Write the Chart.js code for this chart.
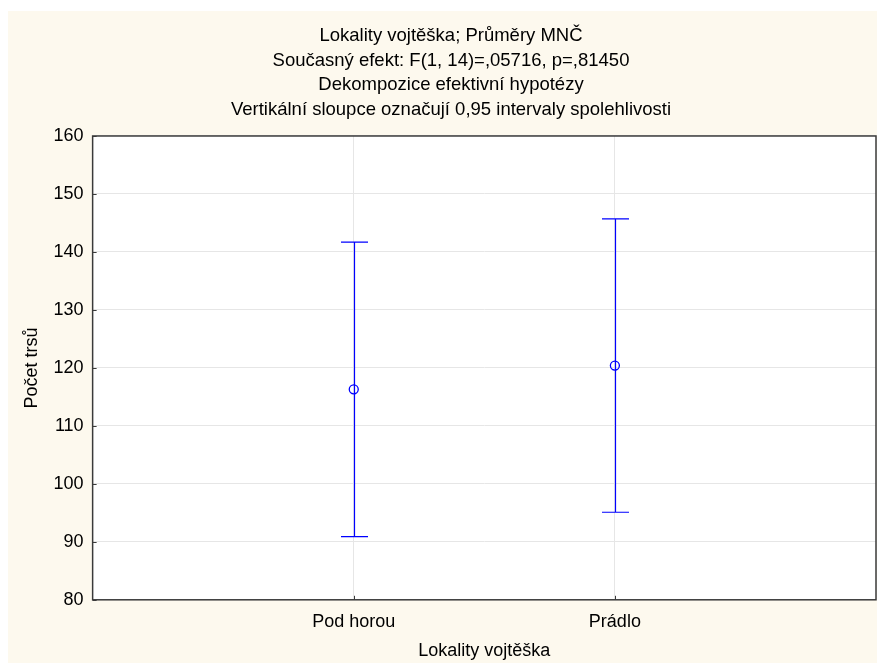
<!DOCTYPE html>
<html>
<head>
<meta charset="utf-8">
<script src="https://cdn.jsdelivr.net/npm/chart.js@4/dist/chart.umd.min.js"></script>
<style>
  html, body { margin: 0; padding: 0; background: #ffffff; overflow: hidden; }
  #wrap { width: 877px; height: 663px; }
  canvas { display: block; }
</style>
</head>
<body>
<div id="wrap"><canvas id="c" width="877" height="663"></canvas></div>
<script>
// Category labels and group positions on the x axis
const categories = ['Pod horou', 'Prádlo'];
const positions = [1, 2];
// Least-squares means and their 0.95 confidence limits
const means = [116.3, 120.4];
const lowerCI = [90.9, 95.1];
const upperCI = [141.7, 145.7];
// Y axis tick values
const yTicks = [80, 90, 100, 110, 120, 130, 140, 150, 160];

const titleLines = [
  'Lokality vojtěška; Průměry MNČ',
  'Současný efekt: F(1, 14)=,05716, p=,81450',
  'Dekompozice efektivní hypotézy',
  'Vertikální sloupce označují 0,95 intervaly spolehlivosti'
];

const BLUE = '#0000ff';
const FONT = 'Liberation Sans, Arial, sans-serif';
const FS = 18;

// Cream page background with a white margin on the top/left edges
const backgroundPlugin = {
  id: 'bg',
  beforeDraw(chart) {
    const ctx = chart.ctx;
    ctx.save();
    ctx.fillStyle = '#ffffff';
    ctx.fillRect(0, 0, chart.width, chart.height);
    ctx.fillStyle = '#fdf9ee';
    ctx.fillRect(8, 11, chart.width - 8, chart.height - 11);
    const a = chart.chartArea;
    ctx.fillStyle = '#ffffff';
    ctx.fillRect(a.left, a.top, a.right - a.left, a.bottom - a.top);
    ctx.restore();
  }
};

// Whiskers with caps for the confidence intervals, plus the plot frame
const errorBarPlugin = {
  id: 'errorBars',
  afterDatasetsDraw(chart) {
    const ctx = chart.ctx;
    const xs = chart.scales.x, ys = chart.scales.y;
    ctx.save();
    ctx.strokeStyle = BLUE;
    ctx.lineWidth = 1.2;
    positions.forEach((p, i) => {
      const x = Math.round(xs.getPixelForValue(p)) + 0.5;
      const yl = ys.getPixelForValue(lowerCI[i]);
      const yu = ys.getPixelForValue(upperCI[i]);
      const cap = 13.5;
      ctx.beginPath();
      ctx.moveTo(x, yu); ctx.lineTo(x, yl);
      ctx.moveTo(x - cap, yu); ctx.lineTo(x + cap, yu);
      ctx.moveTo(x - cap, yl); ctx.lineTo(x + cap, yl);
      ctx.stroke();
    });
    ctx.restore();
  },
  afterDraw(chart) {
    const ctx = chart.ctx;
    const a = chart.chartArea;
    const xs = chart.scales.x, ys = chart.scales.y;
    ctx.save();
    ctx.strokeStyle = '#3a3a3a';
    ctx.lineWidth = 1.5;
    ctx.strokeRect(a.left, a.top, a.right - a.left, a.bottom - a.top);
    // short inward tick marks
    ctx.lineWidth = 1;
    ctx.beginPath();
    yTicks.forEach(v => {
      const y = Math.round(ys.getPixelForValue(v)) + 0.5;
      ctx.moveTo(a.left, y); ctx.lineTo(a.left + 4, y);
    });
    positions.forEach(p => {
      const x = Math.round(xs.getPixelForValue(p)) + 0.5;
      ctx.moveTo(x, a.bottom); ctx.lineTo(x, a.bottom - 4);
    });
    ctx.stroke();
    ctx.restore();
  }
};

new Chart(document.getElementById('c'), {
  type: 'scatter',
  data: {
    datasets: [{
      data: positions.map((p, i) => ({ x: p, y: means[i] })),
      showLine: false,
      pointStyle: 'circle',
      pointRadius: 4.5,
      pointHoverRadius: 4.5,
      pointBorderWidth: 1.3,
      borderColor: BLUE,
      backgroundColor: 'rgba(0,0,0,0)'
    }]
  },
  options: {
    responsive: false,
    animation: false,
    events: [],
    layout: { autoPadding: false, padding: { top: 24, left: 26, right: 1, bottom: 1 } },
    plugins: {
      legend: { display: false },
      tooltip: { enabled: false },
      title: {
        display: true,
        text: titleLines,
        color: '#000000',
        font: { family: FONT, size: 18.5, weight: 'normal', lineHeight: 1.32 },
        padding: { top: 0, bottom: 14.3 }
      }
    },
    scales: {
      x: {
        type: 'linear',
        min: 0,
        max: 3,
        afterBuildTicks(scale) {
          scale.ticks = positions.map(v => ({ value: v }));
        },
        ticks: {
          color: '#000000',
          font: { family: FONT, size: FS },
          padding: 11,
          maxRotation: 0,
          callback: (v) => categories[positions.indexOf(v)] ?? ''
        },
        grid: { color: '#e6e6e6', lineWidth: 1, tickLength: 0, drawTicks: false },
        border: { display: false },
        title: {
          display: true,
          text: 'Lokality vojtěška',
          color: '#000000',
          font: { family: FONT, size: FS },
          padding: { top: -3, bottom: 0 }
        }
      },
      y: {
        min: 80,
        max: 160,
        afterBuildTicks(scale) {
          scale.ticks = yTicks.map(v => ({ value: v }));
        },
        ticks: {
          color: '#000000',
          font: { family: FONT, size: FS },
          padding: 9
        },
        grid: { color: '#e6e6e6', lineWidth: 1, tickLength: 0, drawTicks: false },
        border: { display: false },
        title: {
          display: true,
          text: 'Počet trsů',
          color: '#000000',
          font: { family: FONT, size: FS },
          padding: { top: -5, bottom: 2 }
        }
      }
    }
  },
  plugins: [backgroundPlugin, errorBarPlugin]
});
</script>
</body>
</html>
